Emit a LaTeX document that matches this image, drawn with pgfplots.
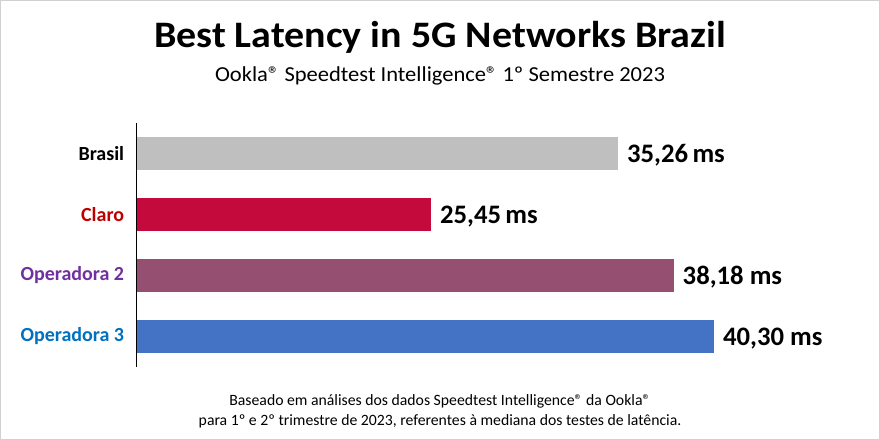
\documentclass[border=0pt]{standalone}
\usepackage{pgfplots}
\pgfplotsset{compat=1.18}
\usepackage{graphicx}
\usepackage{fontspec}
\setmainfont{Carlito}

\definecolor{barBrasil}{RGB}{191,191,191}
\definecolor{barClaro}{RGB}{196,10,60}
\definecolor{barOp2}{RGB}{149,79,113}
\definecolor{barOp3}{RGB}{68,114,196}
\definecolor{txtClaro}{RGB}{192,0,0}
\definecolor{txtOp2}{RGB}{112,48,160}
\definecolor{txtOp3}{RGB}{0,112,192}

\begin{document}
\begin{tikzpicture}
  % frame of the picture: 880 x 440 px = 660 x 330 pt, origin top left
  \draw[draw=black!18, fill=white] (0.375pt,-0.375pt) rectangle (659.625pt,-329.625pt);

  \node[font=\bfseries\fontsize{28}{34}\selectfont, anchor=base, inner sep=0pt] at (330pt,-36pt)
    {\scalebox{1.07}[1]{Best Latency in 5G Networks Brazil}};
  \node[font=\fontsize{16}{19}\selectfont, anchor=base, inner sep=0pt] at (330pt,-61.5pt)
    {\scalebox{1.055}[1]{Ookla® Speedtest Intelligence® 1º Semestre 2023}};
  \node[font=\fontsize{11.8}{15}\selectfont, align=center, anchor=base, inner sep=0pt] at (330pt,-319pt)
    {Baseado em análises dos dados Speedtest Intelligence® da Ookla®\\
     para 1º e 2º trimestre de 2023, referentes à mediana dos testes de latência.};

  \begin{axis}[
      at={(102.75pt,-92.25pt)}, anchor=north west,
      scale only axis,
      width=543pt, height=183pt,
      xbar, bar width=24.75pt, bar shift=0pt,
      xmin=10, xmax=48,
      ymin=-0.5, ymax=3.5, y dir=reverse,
      axis y line*=left, axis x line=none,
      y axis line style={black, line width=0.8pt},
      xtick=\empty,
      ytick={0,1,2,3},
      yticklabels={Brasil,
                   \textcolor{txtClaro}{Claro},
                   \textcolor{txtOp2}{Operadora 2},
                   \textcolor{txtOp3}{Operadora 3}},
      yticklabel style={font=\bfseries\fontsize{15}{18}\selectfont, xshift=-6pt},
      major tick length=0pt,
      point meta=explicit symbolic,
      nodes near coords={\pgfplotspointmeta},
      nodes near coords align={horizontal},
      nodes near coords style={font=\bfseries\fontsize{20}{24}\selectfont, black,
                               anchor=west, xshift=3pt, yshift=-1.5pt},
    ]
    \addplot[fill=barBrasil, draw=none] coordinates {(35.26,0) [35,26\,ms]};
    \addplot[fill=barClaro, draw=none] coordinates {(25.45,1) [25,45\,ms]};
    \addplot[fill=barOp2, draw=none] coordinates {(38.18,2) [38,18 ms]};
    \addplot[fill=barOp3, draw=none] coordinates {(40.30,3) [40,30 ms]};
  \end{axis}
\end{tikzpicture}
\end{document}
